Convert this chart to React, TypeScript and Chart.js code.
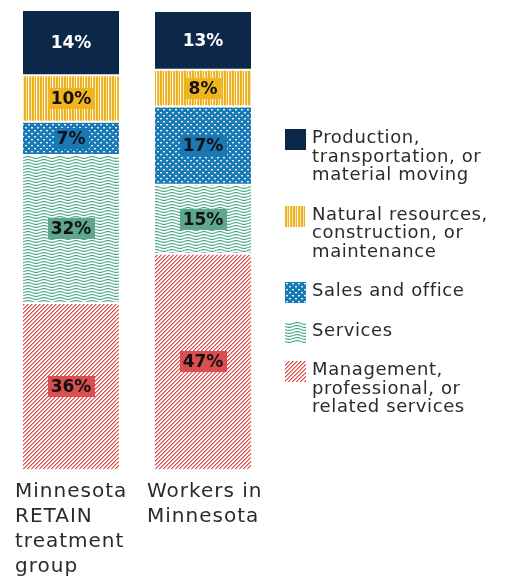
import React, { useEffect, useRef } from 'react';
import { Chart, registerables } from 'chart.js';

Chart.register(...registerables);

// ---- data ----
const categoryLines: string[][] = [
  ['Minnesota', 'RETAIN', 'treatment', 'group'],
  ['Workers in', 'Minnesota'],
];
// stacked bottom -> top
const management = [36.3, 47];
const services = [32.2, 15];
const salesOffice = [7.2, 17];
const naturalResources = [10.1, 8];
const production = [14.2, 12.8];

const seriesNames = [
  'Management, professional, or related services',
  'Services',
  'Sales and office',
  'Natural resources, construction, or maintenance',
  'Production, transportation, or material moving',
];
const legendLines: string[][] = [
  ['Production,', 'transportation, or', 'material moving'],
  ['Natural resources,', 'construction, or', 'maintenance'],
  ['Sales and office'],
  ['Services'],
  ['Management,', 'professional, or', 'related services'],
];
const legendKinds = ['navy', 'yellow', 'blue', 'green', 'red'];

const FONT = '"DejaVu Sans", sans-serif';

const labelBg: Record<string, string | null> = {
  navy: null,
  yellow: '#f0b41e',
  blue: '#1a79b5',
  green: '#5ea690',
  red: '#d94f4f',
};
const labelColor: Record<string, string> = {
  navy: '#ffffff',
  yellow: '#111111',
  blue: '#111111',
  green: '#111111',
  red: '#111111',
};

function makeTile(kind: string): HTMLCanvasElement {
  const c = document.createElement('canvas');
  const g = c.getContext('2d') as CanvasRenderingContext2D;
  if (kind === 'navy') {
    c.width = 4; c.height = 4;
    g.fillStyle = '#0c2849';
    g.fillRect(0, 0, 4, 4);
  } else if (kind === 'yellow') {
    const cols = ['#efb11a', '#efb11a', '#fbe4b4', '#efb11a', '#ffffff', '#f2bd3e', '#efb11a', '#fbe8c2'];
    c.width = cols.length; c.height = 2;
    cols.forEach((col, i) => { g.fillStyle = col; g.fillRect(i, 0, 1, 2); });
  } else if (kind === 'blue') {
    c.width = 6; c.height = 6;
    g.fillStyle = '#1a7ab5';
    g.fillRect(0, 0, 6, 6);
    g.fillStyle = 'rgba(255,255,255,0.9)';
    g.fillRect(1, 1, 2, 1);
    g.fillRect(4, 4, 2, 1);
    g.fillStyle = 'rgba(255,255,255,0.35)';
    g.fillRect(1, 2, 2, 1);
    g.fillRect(4, 5, 2, 1);
  } else if (kind === 'green') {
    c.width = 16; c.height = 3;
    g.fillStyle = '#ffffff';
    g.fillRect(0, 0, 16, 3);
    g.strokeStyle = '#4aa888';
    g.lineWidth = 1.1;
    for (let off = -3; off <= 3; off += 3) {
      g.beginPath();
      for (let x = 0; x <= 16; x += 0.5) {
        const y = 1.5 + off + Math.sin((x / 16) * Math.PI * 2) * 0.9;
        if (x === 0) g.moveTo(x, y); else g.lineTo(x, y);
      }
      g.stroke();
    }
  } else {
    c.width = 4; c.height = 4;
    g.fillStyle = '#ffffff';
    g.fillRect(0, 0, 4, 4);
    for (let x = 0; x < 4; x++) {
      g.fillStyle = '#e24a4a';
      g.fillRect(x, 3 - x, 1, 1);
      g.fillStyle = '#f09a9a';
      g.fillRect(x, (4 - x) % 4, 1, 1);
    }
  }
  return c;
}

function patternFor(kind: string): CanvasPattern | string {
  const tile = makeTile(kind);
  const ctx = document.createElement('canvas').getContext('2d') as CanvasRenderingContext2D;
  return ctx.createPattern(tile, 'repeat') || '#999';
}

const Swatch: React.FC<{ kind: string }> = ({ kind }) => {
  const ref = useRef<HTMLCanvasElement>(null);
  useEffect(() => {
    const cv = ref.current;
    if (!cv) return;
    const g = cv.getContext('2d') as CanvasRenderingContext2D;
    const p = g.createPattern(makeTile(kind), 'repeat');
    if (p) g.fillStyle = p;
    g.fillRect(0, 0, cv.width, cv.height);
  }, [kind]);
  return (
    <canvas
      ref={ref}
      width={21}
      height={21}
      style={{ display: 'block', flex: '0 0 auto', marginTop: 1, marginBottom: -4 }}
    />
  );
};

const dataLabelPlugin = {
  id: 'segLabels',
  afterDatasetsDraw(chart: any) {
    const ctx = chart.ctx as CanvasRenderingContext2D;
    ctx.save();
    ctx.font = `bold 17px ${FONT}`;
    ctx.textAlign = 'center';
    ctx.textBaseline = 'middle';
    chart.data.datasets.forEach((ds: any, di: number) => {
      const meta = chart.getDatasetMeta(di);
      const kind = ds.kind as string;
      meta.data.forEach((bar: any, i: number) => {
        const { x, y, base } = bar.getProps(['x', 'y', 'base'], true);
        const cy = (y + base) / 2;
        const text = `${Math.round(ds.data[i])}%`;
        const w = ctx.measureText(text).width;
        const bg = labelBg[kind];
        if (bg) {
          ctx.fillStyle = bg;
          ctx.fillRect(Math.round(x - w / 2 - 3), Math.round(cy - 10.5), Math.round(w + 6), 21);
        }
        ctx.fillStyle = labelColor[kind];
        ctx.fillText(text, x, cy + 1);
      });
    });
    ctx.restore();
  },
};

const categoryLabelPlugin = {
  id: 'catLabels',
  afterDraw(chart: any) {
    const ctx = chart.ctx as CanvasRenderingContext2D;
    const xs = chart.scales.x;
    const bottom = chart.chartArea.bottom;
    ctx.save();
    ctx.font = `20px ${FONT}`;
    (ctx as any).letterSpacing = '1px';
    ctx.fillStyle = '#2b2b2b';
    ctx.textAlign = 'left';
    ctx.textBaseline = 'middle';
    categoryLines.forEach((lines, i) => {
      const left = xs.getPixelForValue(i) - 56;
      lines.forEach((ln, k) => {
        ctx.fillText(ln, left, bottom + 22 + k * 25);
      });
    });
    ctx.restore();
  },
};

export default function App() {
  const canvasRef = useRef<HTMLCanvasElement>(null);

  useEffect(() => {
    const cv = canvasRef.current;
    if (!cv) return;
    const seriesData = [management, services, salesOffice, naturalResources, production];
    const kinds = ['red', 'green', 'blue', 'yellow', 'navy'];
    const chart = new Chart(cv, {
      type: 'bar',
      data: {
        labels: categoryLines.map((l) => l.join(' ')),
        datasets: seriesData.map((d, i) => ({
          label: seriesNames[i],
          data: d,
          kind: kinds[i],
          backgroundColor: patternFor(kinds[i]) as any,
          borderColor: '#ffffff',
          borderWidth: { top: 1, bottom: 1, left: 0, right: 0 },
          borderSkipped: false,
          barPercentage: 96 / 132,
          categoryPercentage: 1,
        })) as any,
      },
      options: {
        responsive: false,
        animation: false,
        layout: { padding: { left: 5, right: 239, top: 10, bottom: 108 } },
        plugins: { legend: { display: false }, tooltip: { enabled: false } },
        scales: {
          x: { stacked: true, display: false },
          y: { stacked: true, display: false, min: 0, max: 100 },
        },
      },
      plugins: [dataLabelPlugin, categoryLabelPlugin],
    });
    return () => chart.destroy();
  }, []);

  return (
    <div style={{ position: 'absolute', left: 0, top: 0, width: 508, height: 578, background: '#fff' }}>
      <canvas ref={canvasRef} width={508} height={578} style={{ position: 'absolute', left: 0, top: 0 }} />
      <div
        style={{
          position: 'absolute',
          left: 285,
          top: 128,
          display: 'flex',
          flexDirection: 'column',
          gap: 21,
          fontFamily: FONT,
          fontSize: 18,
          letterSpacing: '0.6px',
          lineHeight: '18.5px',
          color: '#2b2b2b',
        }}
      >
        {legendLines.map((lines, i) => (
          <div key={i} style={{ display: 'flex', alignItems: 'flex-start', gap: 6 }}>
            <Swatch kind={legendKinds[i]} />
            <div>
              {lines.map((ln, k) => (
                <div key={k} style={{ whiteSpace: 'nowrap' }}>{ln}</div>
              ))}
            </div>
          </div>
        ))}
      </div>
    </div>
  );
}
